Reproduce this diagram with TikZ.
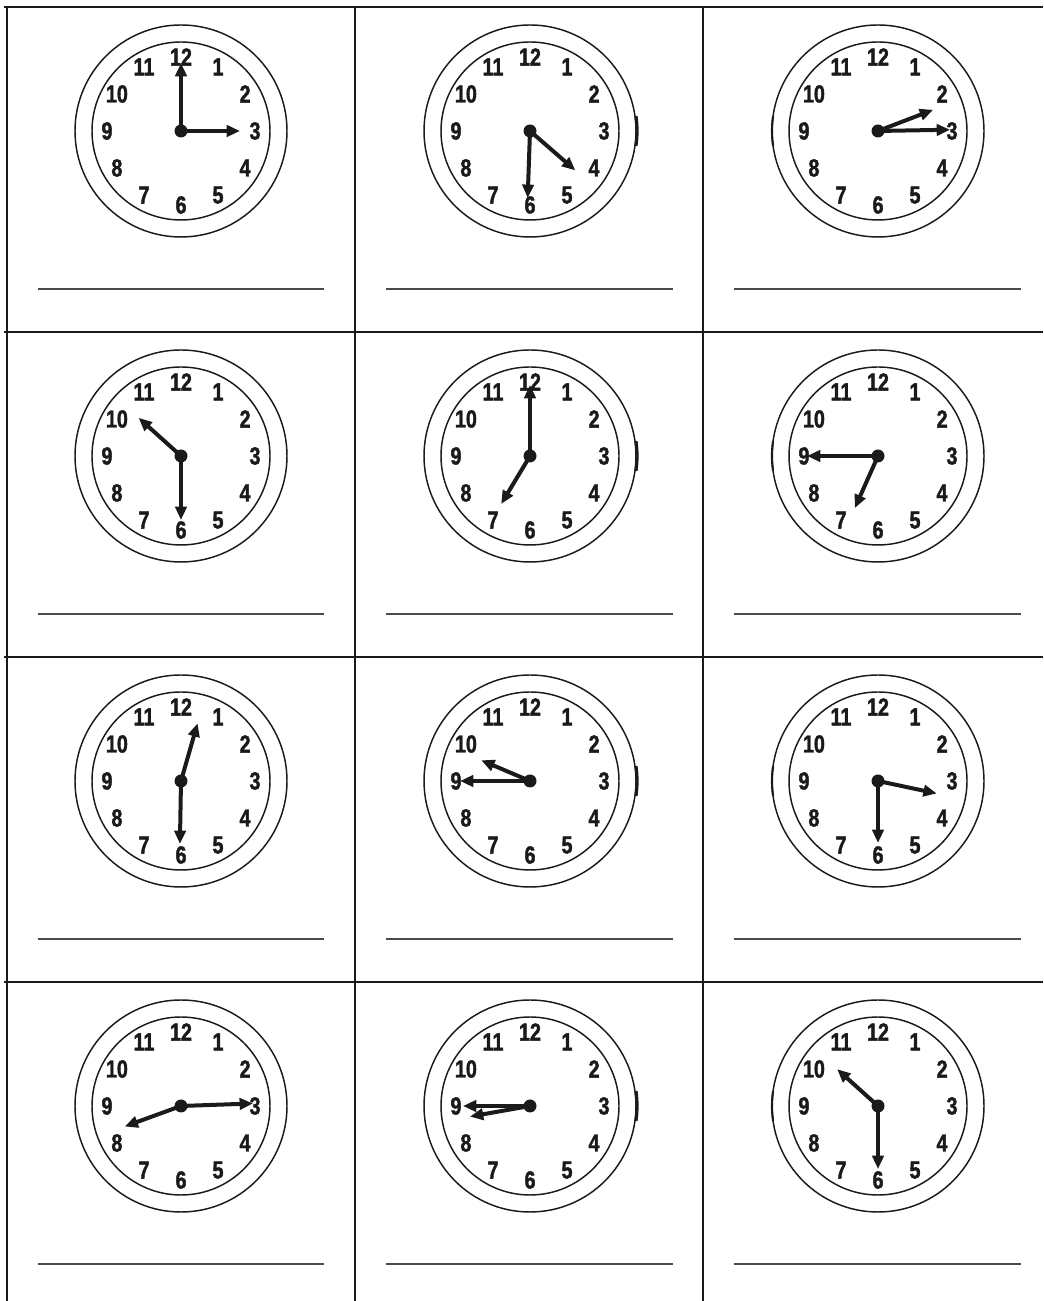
\documentclass[tikz,border=0pt]{standalone}
\usepackage{fontspec}
\usepackage{xcolor}
\usepackage{tikz}
\usetikzlibrary{arrows.meta}
\newfontfamily\dialfont[FakeStretch=0.8,FakeBold=1.6]{Liberation Sans}
\definecolor{inkdark}{HTML}{1A1A1A}
\definecolor{inkgray}{HTML}{4A4A4A}
\tikzset{
gridline/.style={draw=inkdark, line width=1.5pt},
answerline/.style={draw=inkgray, line width=1.4pt},
rim/.style={draw=inkdark, line width=1.1pt},
knob/.style={draw=inkdark, line width=2.4pt},
dial/.style={font=\dialfont\bfseries\fontsize{18.5}{19}\selectfont, text=inkdark, inner sep=0pt},
hand/.style={draw=inkdark, line width=3pt, -{Triangle[length=10pt,width=8.5pt]}}
}
% clock face: #1,#2 centre; #3,#4 hour hand angle/length; #5,#6 minute hand angle/length
\newcommand{\clockat}[6]{%
\begin{scope}[shift={(#1,#2)}]
 \coordinate (ctr) at (0,0);
 \draw[rim] (ctr) circle[radius=106];
 \draw[rim] (ctr) circle[radius=89];
 \foreach \n in {1,...,12}
  \node[dial] (d\n) at ({90-30*\n}:74) {\n};
 \coordinate (htip) at (#3:#4);
 \coordinate (mtip) at (#5:#6);
 \draw[hand] (ctr) -- (htip);
 \draw[hand] (ctr) -- (mtip);
 \fill[inkdark] (ctr) circle[radius=6.5];
\end{scope}}

\begin{document}
\begin{tikzpicture}[x=0.75pt,y=0.75pt]
\useasboundingbox (0,0) rectangle (1043,1301);
\def\cA{181} % column 1 centre x
\def\cB{530} % column 2 centre x
\def\cC{878} % column 3 centre x

% ── Grid ───────────────────────────────────────────────────────
\draw[gridline] (4,1294) -- (1043,1294);
\draw[gridline] (4,969) -- (1043,969);
\draw[gridline] (4,644) -- (1043,644);
\draw[gridline] (4,319) -- (1043,319);
\draw[gridline] (7,0) -- (7,1295);
\draw[gridline] (355,0) -- (355,1295);
\draw[gridline] (703,0) -- (703,1295);

% ── Answer lines ───────────────────────────────────────────────
\foreach \y in {1012,687,362,37}{
 \draw[answerline] (38,\y) -- (324,\y);
 \draw[answerline] (386,\y) -- (673,\y);
 \draw[answerline] (734,\y) -- (1021,\y);
}

% ── Knobs on the rims ──────────────────────────────────────────
\foreach \y in {1170,845,520,195}{
 \draw[knob] (\cB,\y) ++(-8:107) arc[start angle=-8,end angle=8,radius=107];
 \draw[rim,line width=1.6pt] (\cC,\y) ++(172:106) arc[start angle=172,end angle=188,radius=106];
}

% ── Row 1 ──────────────────────────────────────────────────────
\clockat{\cA}{1170}{0}{59}{90}{68}
\clockat{\cB}{1170}{-41}{60}{-92}{67}
\clockat{\cC}{1170}{21}{59}{1}{72}

% ── Row 2 ──────────────────────────────────────────────────────
\clockat{\cA}{845}{138}{57}{-90}{64}
\clockat{\cB}{845}{-121}{56}{90}{71}
\clockat{\cC}{845}{-114}{57}{180}{71}

% ── Row 3 ──────────────────────────────────────────────────────
\clockat{\cA}{520}{74}{60}{-91}{63}
\clockat{\cB}{520}{157}{53}{180}{70}
\clockat{\cC}{520}{-12}{60}{-90}{62}

% ── Row 4 ──────────────────────────────────────────────────────
\clockat{\cA}{195}{200}{60}{2}{72}
\clockat{\cB}{195}{190}{61}{180}{67}
\clockat{\cC}{195}{138}{55}{-90}{63}
\end{tikzpicture}
\end{document}
